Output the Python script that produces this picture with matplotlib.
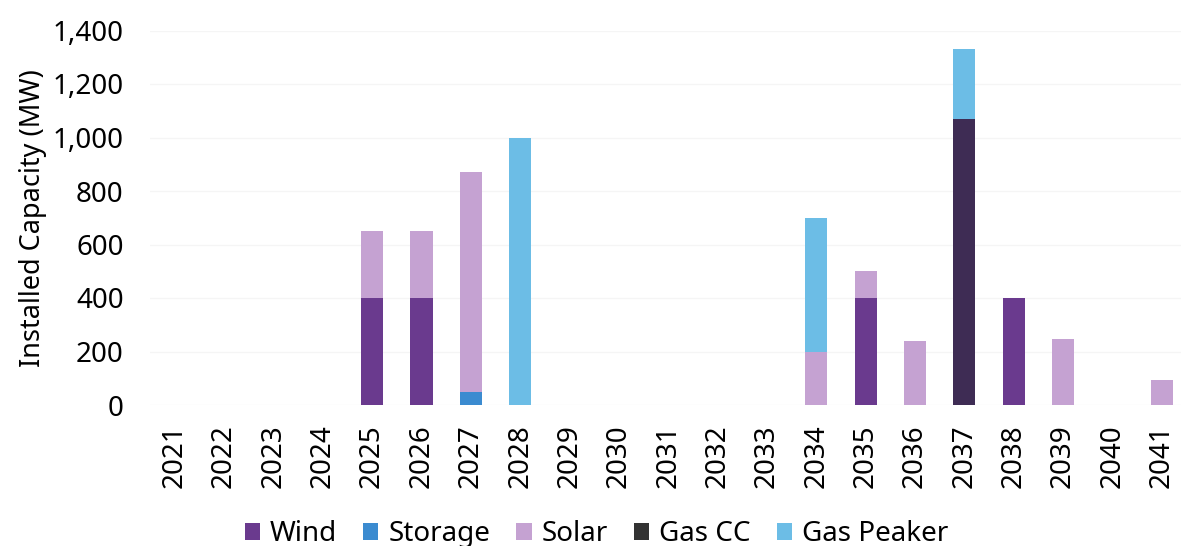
import numpy as np
import matplotlib.pyplot as plt
from matplotlib.patches import Patch

# Annual capacity additions by resource type (MW)
years = [str(y) for y in range(2021, 2042)]
wind = [0, 0, 0, 0, 400, 400, 0, 0, 0, 0, 0, 0, 0, 0, 400, 0, 0, 400, 0, 0, 0]
storage = [0, 0, 0, 0, 0, 0, 50, 0, 0, 0, 0, 0, 0, 0, 0, 0, 0, 0, 0, 0, 0]
solar = [0, 0, 0, 0, 250, 250, 820, 0, 0, 0, 0, 0, 0, 200, 100, 240, 0, 0, 245, 0, 95]
gas_cc = [0, 0, 0, 0, 0, 0, 0, 0, 0, 0, 0, 0, 0, 0, 0, 0, 1070, 0, 0, 0, 0]
gas_peaker = [0, 0, 0, 0, 0, 0, 0, 1000, 0, 0, 0, 0, 0, 500, 0, 0, 260, 0, 0, 0, 0]

series = [
    ("Wind", wind, "#6a3a8e", "#6a3a8e"),
    ("Storage", storage, "#3b8bd0", "#3b8bd0"),
    ("Solar", solar, "#c5a2d2", "#c5a2d2"),
    ("Gas CC", gas_cc, "#3e2c54", "#333333"),
    ("Gas Peaker", gas_peaker, "#6cbde6", "#6cbde6"),
]

plt.rcParams["font.family"] = ["Noto Sans", "DejaVu Sans"]

fig = plt.figure(figsize=(11.81, 5.46), dpi=100)
ax = fig.add_axes([150 / 1181, 1 - 405 / 546, 1 - 150 / 1181, (405 - 30.5) / 546])

x = np.arange(len(years))
bottom = np.zeros(len(years))
handles = []
for name, vals, color, legend_color in series:
    vals = np.array(vals, dtype=float)
    ax.bar(x, vals, width=0.45, bottom=bottom, color=color, linewidth=0)
    bottom += vals
    handles.append(Patch(facecolor=legend_color, label=name))

ax.set_xlim(-0.5, 20.39)
ax.set_ylim(0, 1400)
ax.set_yticks(range(0, 1401, 200))
ax.set_yticklabels([f"{v:,}" for v in range(0, 1401, 200)])
ax.set_xticks(x)
ax.set_xticklabels(years, rotation=90)
ax.tick_params(axis="both", length=0, labelsize=20, colors="black")
ax.tick_params(axis="x", pad=14)
ax.tick_params(axis="y", pad=19)

ax.grid(axis="y", color="#f5f5f5", linewidth=1)
ax.set_axisbelow(True)
for s in ax.spines.values():
    s.set_visible(False)

ax.set_ylabel("Installed Capacity (MW)", fontsize=19.5, labelpad=4)

fig.legend(handles=handles, loc="lower center", bbox_to_anchor=(0.505, -0.05),
           ncol=5, frameon=False, fontsize=20, handlelength=0.55, handleheight=0.55,
           handletextpad=0.35, columnspacing=0.95)

fig.savefig("out.png", dpi=100, facecolor="white")
